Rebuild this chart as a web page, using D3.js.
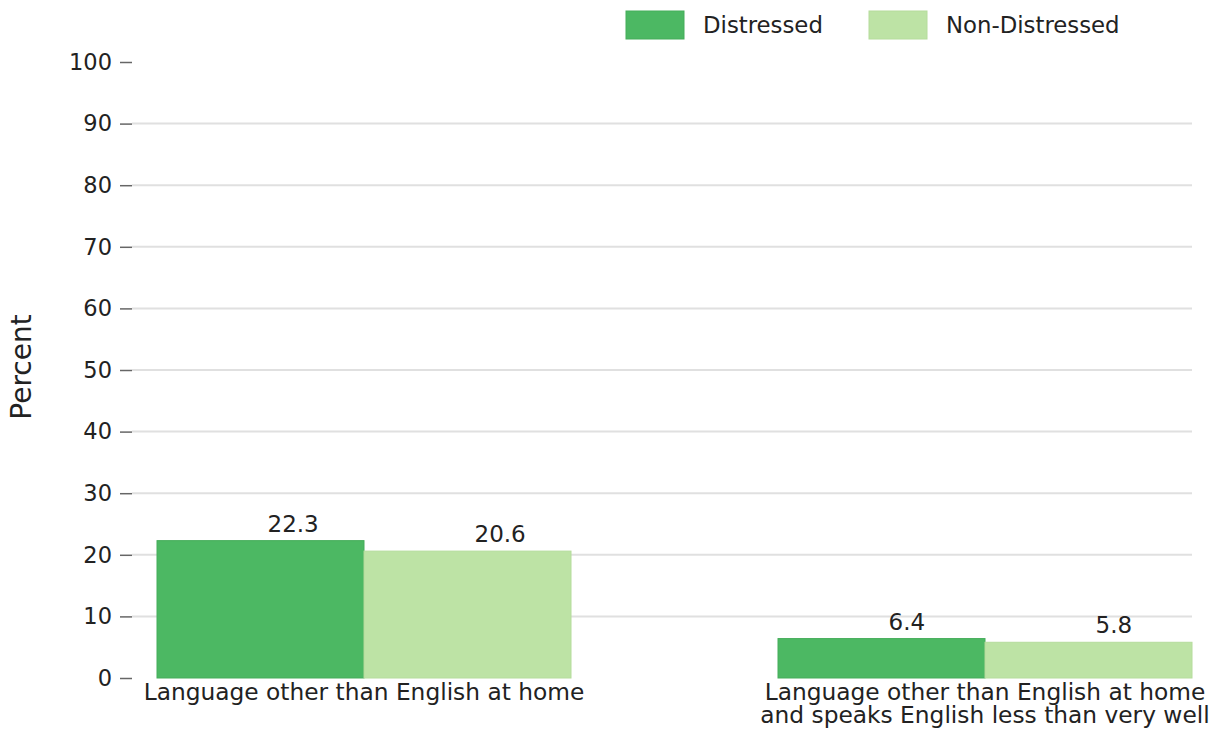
<!DOCTYPE html>
<html>
<head>
<meta charset="utf-8">
<script src="https://cdn.jsdelivr.net/npm/d3@7"></script>
<style>
  body { margin: 0; background: #fff; }
  text { font-family: "DejaVu Sans", sans-serif; fill: #222; }
</style>
</head>
<body>
<svg id="chart" width="1219" height="731"></svg>
<script>
const categories = [
  ["Language other than English at home"],
  ["Language other than English at home", "and speaks English less than very well"]
];
const seriesNames = ["Distressed", "Non-Distressed"];
const distressed = [22.3, 6.4];
const nonDistressed = [20.6, 5.8];
const yTicks = [0, 10, 20, 30, 40, 50, 60, 70, 80, 90, 100];
const colors = ["#4cb863", "#bde3a5"];
const strokes = ["#44ad5a", "#b5dc9c"];

const svg = d3.select("#chart");
const y = d3.scaleLinear().domain([0, 100]).range([678, 62]);
const x0 = d3.scaleBand().domain(d3.range(categories.length)).range([157, 1192]).paddingInner(1/3).paddingOuter(0);
const x1 = d3.scaleBand().domain([0, 1]).range([0, x0.bandwidth()]);

// gridlines
svg.append("g").selectAll("line").data(yTicks.filter(t => t > 0 && t < 100)).join("line")
  .attr("x1", 132).attr("x2", 1192)
  .attr("y1", d => y(d)).attr("y2", d => y(d))
  .attr("stroke", "#e0e0e0").attr("stroke-width", 2);

// y axis
const yAxis = svg.append("g").attr("transform", "translate(132,0)")
  .call(d3.axisLeft(y).tickValues(yTicks).tickSize(12).tickPadding(8));
yAxis.select(".domain").remove();
yAxis.selectAll(".tick line").attr("stroke", "#666").attr("stroke-width", 1.5);
yAxis.selectAll(".tick text").style("font-size", "22.5px").style("font-family", "DejaVu Sans").attr("fill", "#222");

svg.append("text")
  .attr("transform", "translate(31,367) rotate(-90)")
  .attr("text-anchor", "middle")
  .style("font-size", "28px")
  .text("Percent");

const series = [distressed, nonDistressed];
const groups = svg.append("g").selectAll("g").data(categories).join("g")
  .attr("transform", (d, i) => `translate(${x0(i)},0)`);

series.forEach((vals, s) => {
  groups.append("rect")
    .attr("x", x1(s))
    .attr("y", (d, i) => y(vals[i]))
    .attr("width", x1.bandwidth())
    .attr("height", (d, i) => y(0) - y(vals[i]))
    .attr("fill", colors[s])
    .attr("stroke", strokes[s]).attr("stroke-width", 1);
  groups.append("text")
    .attr("x", x1(s) + x1.bandwidth() / 2 + 7)
    .attr("y", (d, i) => y(vals[i]) - 9)
    .style("font-size", "23px")
    .text((d, i) => vals[i].toFixed(1));
});

// category labels
groups.each(function(lines, i) {
  const t = d3.select(this).append("text")
    .attr("text-anchor", "middle")
    .style("font-size", "23.3px");
  lines.forEach((ln, k) => {
    t.append("tspan").attr("x", x0.bandwidth() / 2).attr("y", 700 + k * 23).text(ln);
  });
});

// legend
const legendX = [626, 869];
const lg = svg.append("g").selectAll("g").data(seriesNames).join("g")
  .attr("transform", (d, i) => `translate(${legendX[i]},11)`);
lg.append("rect").attr("width", 58).attr("height", 28)
  .attr("fill", (d, i) => colors[i]).attr("stroke", (d, i) => strokes[i]);
lg.append("text").attr("x", 77).attr("y", 22).style("font-size", "22.8px").text(d => d);
</script>
</body>
</html>
